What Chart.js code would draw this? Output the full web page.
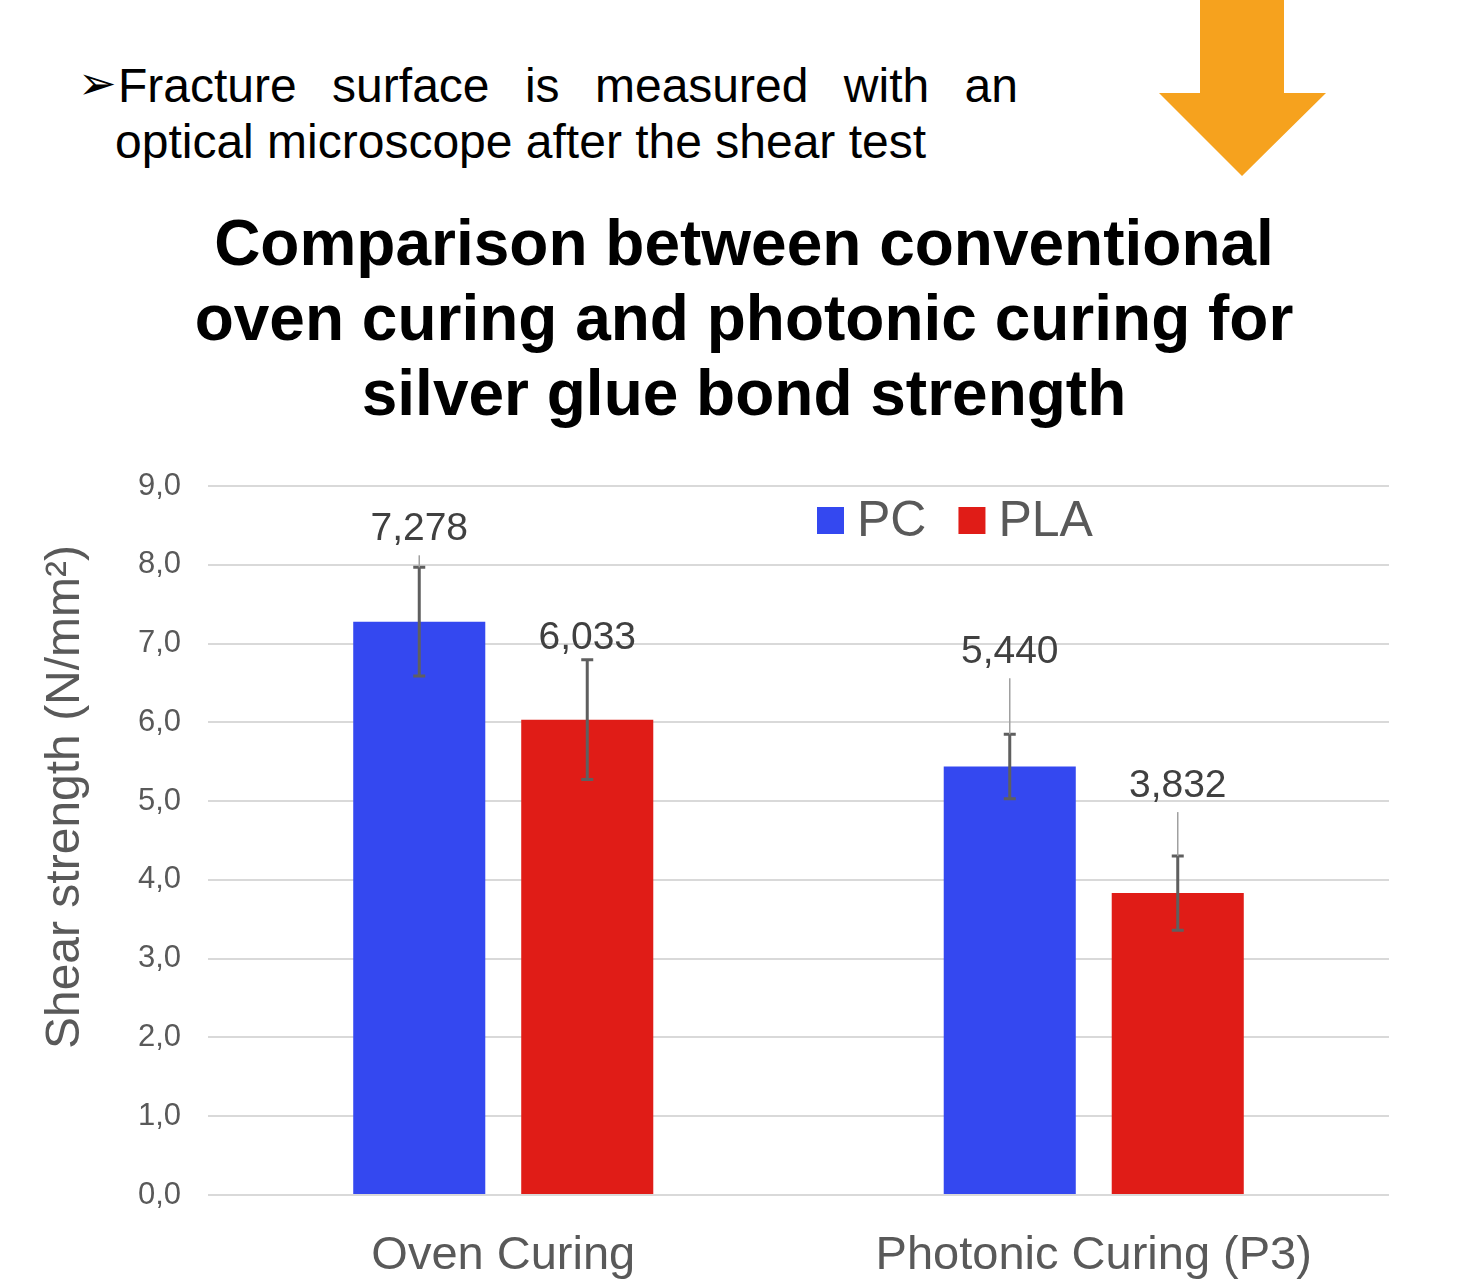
<!DOCTYPE html>
<html lang="en">
<head>
    <meta charset="UTF-8">
    <title>Shear strength comparison</title>
    <script src="https://cdn.jsdelivr.net/npm/chart.js@4.4.1/dist/chart.umd.min.js"></script>
    <style>
        * {
            margin: 0;
            padding: 0;
            box-sizing: border-box;
        }

        body {
            width: 1476px;
            height: 1279px;
            background: #ffffff;
            position: relative;
            overflow: hidden;
            font-family: 'Liberation Sans', Arial, sans-serif;
        }

        .bullet {
            position: absolute;
            left: 78px;
            top: 58px;
            font-family: 'DejaVu Sans', sans-serif;
            font-size: 46px;
            line-height: 50px;
            color: #000;
        }

        .line1 {
            position: absolute;
            left: 118px;
            top: 57px;
            width: 900px;
            font-size: 48px;
            line-height: 57px;
            text-align: justify;
            text-align-last: justify;
            white-space: nowrap;
            color: #000;
        }

        .line2 {
            position: absolute;
            left: 115px;
            top: 113px;
            font-size: 48px;
            line-height: 57px;
            color: #000;
        }

        .arrow {
            position: absolute;
            left: 0;
            top: 0;
        }

        .title {
            position: absolute;
            left: 0;
            top: 206px;
            width: 1488px;
            text-align: center;
            font-weight: bold;
            font-size: 64px;
            line-height: 75px;
            color: #000;
        }

        .chart-box {
            position: absolute;
            left: 0;
            top: 440px;
            width: 1476px;
            height: 839px;
        }
    </style>
</head>
<body>
    <div class="bullet">&#10146;</div>
    <div class="line1">Fracture surface is measured with an</div>
    <div class="line2">optical microscope after the shear test</div>

    <svg class="arrow" width="1476" height="200">
        <polygon points="1200,0 1284,0 1284,93 1326,93 1242,176 1159,93 1200,93" fill="#f6a21e"/>
    </svg>

    <div class="title">Comparison between conventional<br>oven curing and photonic curing for<br>silver glue bond strength</div>

    <div class="chart-box">
        <canvas id="shearChart"></canvas>
    </div>

    <script>
        // datos
        const categories = ['Oven Curing', 'Photonic Curing (P3)'];
        const seriesNames = ['PC', 'PLA'];
        const pcValues = [7.278, 5.440];
        const plaValues = [6.033, 3.832];
        const pcErrors = [0.69, 0.41];
        const plaErrors = [0.76, 0.47];
        const yMin = 0;
        const yMax = 9;
        const yStep = 1;
        const axisTitle = 'Shear strength (N/mm\u00B2)';

        const seriesColors = ['#3448f0', '#e01c17'];
        const fontFamily = '"Liberation Sans", Arial, sans-serif';
        const grayText = '#595959';

        Chart.defaults.font.family = fontFamily;

        function formatComma(v, digits) {
            return v.toFixed(digits).replace('.', ',');
        }

        // error bars, value labels, legend and axis title
        const extrasPlugin = {
            id: 'extras',
            afterDatasetsDraw(chart, args, opts) {
                const ctx = chart.ctx;
                const yScale = chart.scales.y;

                chart.data.datasets.forEach((ds, di) => {
                    const meta = chart.getDatasetMeta(di);
                    meta.data.forEach((bar, i) => {
                        const v = ds.data[i];
                        const err = ds.errors[i];
                        const yHi = yScale.getPixelForValue(v + err);
                        const yLo = yScale.getPixelForValue(v - err);
                        const x = bar.x;

                        ctx.save();
                        ctx.strokeStyle = '#5f5f5f';
                        ctx.lineWidth = 3;
                        ctx.beginPath();
                        ctx.moveTo(x, yHi);
                        ctx.lineTo(x, yLo);
                        ctx.moveTo(x - 6, yHi);
                        ctx.lineTo(x + 6, yHi);
                        ctx.moveTo(x - 6, yLo);
                        ctx.lineTo(x + 6, yLo);
                        ctx.stroke();

                        const ly = yHi - opts.lift[di][i];
                        const leadStart = ly + 26;
                        if (yHi - leadStart > 2) {
                            ctx.strokeStyle = '#a0a0a0';
                            ctx.lineWidth = 1.5;
                            ctx.beginPath();
                            ctx.moveTo(x, leadStart);
                            ctx.lineTo(x, yHi);
                            ctx.stroke();
                        }

                        ctx.fillStyle = '#404040';
                        ctx.font = '39px ' + fontFamily;
                        ctx.textAlign = 'center';
                        ctx.textBaseline = 'middle';
                        ctx.fillText(formatComma(v, 3), x, ly);
                        ctx.restore();
                    });
                });
            },
            afterDraw(chart, args, opts) {
                const ctx = chart.ctx;
                ctx.save();

                // legend
                ctx.font = '50px ' + fontFamily;
                ctx.textBaseline = 'middle';
                ctx.textAlign = 'left';
                let lx = opts.legendX;
                chart.data.datasets.forEach((ds) => {
                    ctx.fillStyle = ds.backgroundColor;
                    ctx.fillRect(lx, opts.legendY - 13, 27, 27);
                    ctx.fillStyle = grayText;
                    ctx.fillText(ds.label, lx + 40, opts.legendY + 2);
                    lx += 40 + ctx.measureText(ds.label).width + 32;
                });

                // y axis title
                ctx.translate(opts.titleX, opts.titleY);
                ctx.rotate(-Math.PI / 2);
                ctx.font = '48px ' + fontFamily;
                ctx.fillStyle = grayText;
                ctx.textAlign = 'center';
                ctx.textBaseline = 'middle';
                ctx.fillText(axisTitle, 0, 0);
                ctx.restore();
            }
        };

        new Chart(document.getElementById('shearChart'), {
            type: 'bar',
            data: {
                labels: categories,
                datasets: [
                    {
                        label: seriesNames[0],
                        data: pcValues,
                        errors: pcErrors,
                        backgroundColor: seriesColors[0],
                        categoryPercentage: 0.569,
                        barPercentage: 0.786
                    },
                    {
                        label: seriesNames[1],
                        data: plaValues,
                        errors: plaErrors,
                        backgroundColor: seriesColors[1],
                        categoryPercentage: 0.569,
                        barPercentage: 0.786
                    }
                ]
            },
            options: {
                responsive: true,
                maintainAspectRatio: false,
                animation: false,
                layout: {
                    padding: { top: 46, right: 87, left: 0, bottom: 0 }
                },
                plugins: {
                    legend: { display: false },
                    tooltip: { enabled: false },
                    extras: {
                        lift: [[38, 82], [22, 70]],
                        legendX: 817,
                        legendY: 80,
                        titleX: 66,
                        titleY: 357
                    }
                },
                scales: {
                    x: {
                        grid: { display: false },
                        border: { display: false },
                        ticks: {
                            color: grayText,
                            font: { size: 47 },
                            padding: 25,
                            maxRotation: 0
                        },
                        afterFit(scale) {
                            scale.height = 84;
                        }
                    },
                    y: {
                        min: yMin,
                        max: yMax,
                        border: { display: false },
                        grid: {
                            color: '#d9d9d9',
                            lineWidth: 2,
                            drawTicks: false
                        },
                        ticks: {
                            stepSize: yStep,
                            color: grayText,
                            font: { size: 31 },
                            padding: 27,
                            callback: (v) => formatComma(v, 1)
                        },
                        afterFit(scale) {
                            scale.width = 208;
                        }
                    }
                }
            },
            plugins: [extrasPlugin]
        });
    </script>
</body>
</html>
